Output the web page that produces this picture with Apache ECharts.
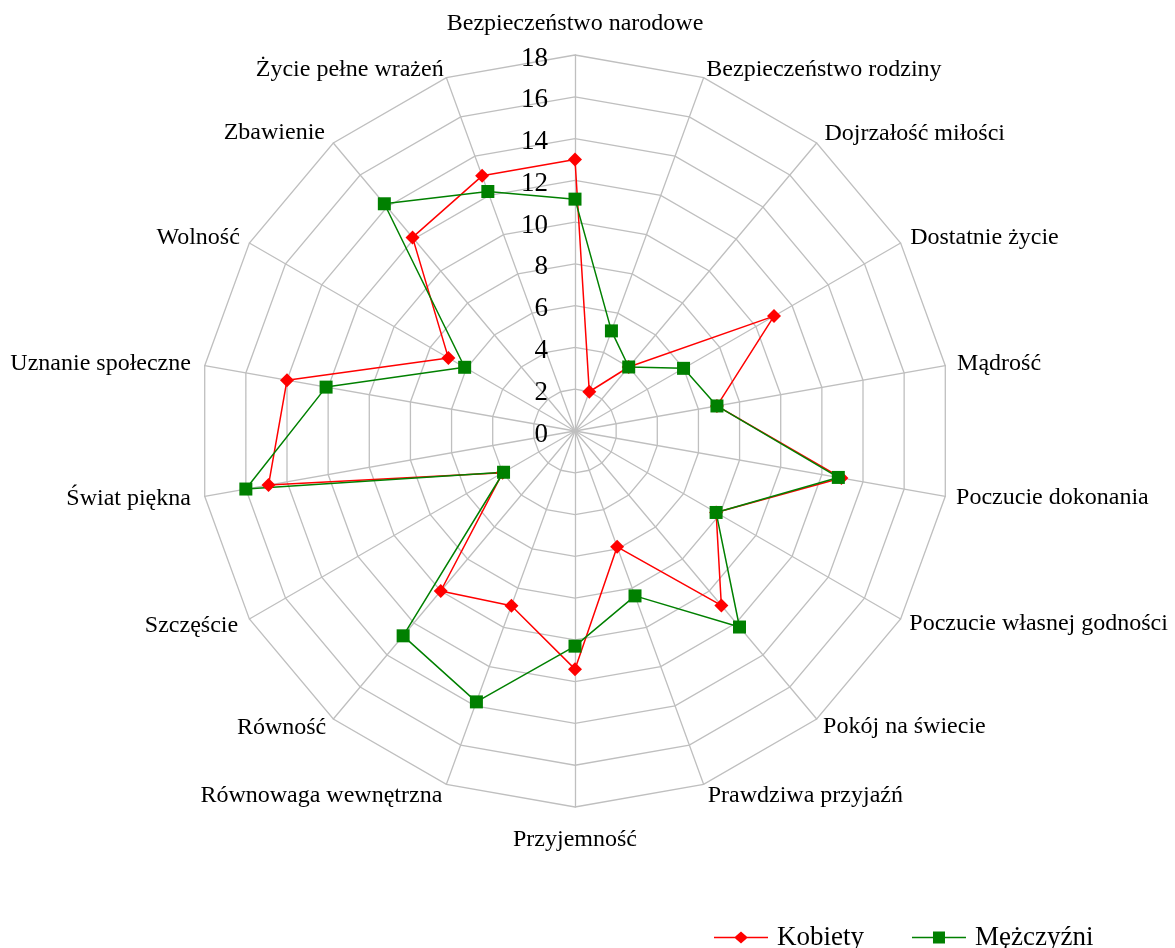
<!DOCTYPE html>
<html>
<head>
<meta charset="utf-8">
<script src="https://cdn.jsdelivr.net/npm/echarts@6/dist/echarts.min.js"></script>
<style>
  html, body { margin: 0; padding: 0; background: #fff; }
  #chart { width: 1175px; height: 948px; }
</style>
</head>
<body>
<div id="chart"></div>
<script>
// wartości (kolejność zgodnie z ruchem wskazówek zegara, od góry)
const indicatorNames = [
  'Bezpieczeństwo narodowe', 'Bezpieczeństwo rodziny', 'Dojrzałość miłości',
  'Dostatnie życie', 'Mądrość', 'Poczucie dokonania', 'Poczucie własnej godności',
  'Pokój na świecie', 'Prawdziwa przyjaźń', 'Przyjemność', 'Równowaga wewnętrzna',
  'Równość', 'Szczęście', 'Świat piękna', 'Uznanie społeczne', 'Wolność',
  'Zbawienie', 'Życie pełne wrażeń'
];
const kobiety = [13.0, 2.0, 4.0, 11.0, 6.9, 12.95, 7.8, 10.9, 5.9, 11.4, 8.9, 10.0, 4.0, 14.9, 14.0, 7.0, 12.1, 13.0];
const mezczyzni = [11.1, 5.1, 4.0, 6.0, 6.9, 12.8, 7.8, 12.25, 8.4, 10.3, 13.8, 12.8, 3.95, 16.0, 12.1, 6.1, 14.2, 12.2];
const axisMax = 18;
const seriesNames = ['Kobiety', 'Mężczyźni'];

// odstęp nazw od wierzchołka (styl, w tej samej kolejności co nazwy)
const nameGaps = [19, 8, 12, 11, 12, 11, 10, 10, 12, 21, 12, 11, 13, 14, 14, 11, 13, 8];

const FONT = "'Liberation Serif', 'Times New Roman', serif";

// echarts rysuje wskaźniki przeciwnie do ruchu wskazówek -> odwracamy kolejność
const n = indicatorNames.length;
const order = [0];
for (let i = n - 1; i >= 1; i--) order.push(i);
const reorder = arr => order.map(i => arr[i]);

const gapsOrdered = reorder(nameGaps);
const indicator = reorder(indicatorNames).map((name, i) => {
  const ind = { name: name, min: 0, max: axisMax, nameGap: gapsOrdered[i] };
  if (i === 0) ind.axisLabel = { show: true };  // etykiety tylko na osi pionowej
  return ind;
});

// ikony legendy: linia z markerem
const diamondIcon = 'path://M0,5.2H21L27,0L33,5.2H54V6.8H33L27,12L21,6.8H0Z';
const squareIcon = 'path://M0,5.2H21V0H33V5.2H54V6.8H33V12H21V6.8H0Z';

const option = {
  animation: false,
  textStyle: { fontFamily: FONT },
  legend: {
    left: 709,
    top: 919,
    itemWidth: 54,
    itemHeight: 12,
    itemGap: 48,
    textStyle: { fontFamily: FONT, fontSize: 27, color: '#000', padding: [0, 0, 0, 4] },
    data: [
      { name: seriesNames[0], icon: diamondIcon },
      { name: seriesNames[1], icon: squareIcon }
    ]
  },
  radar: {
    center: [575, 431],
    radius: 376,
    startAngle: 90,
    shape: 'polygon',
    splitNumber: 9,
    nameGap: 14,
    axisName: { color: '#000', fontFamily: FONT, fontSize: 24 },
    axisLine: { lineStyle: { color: '#bfbfbf', width: 1.3 } },
    splitLine: { lineStyle: { color: '#bfbfbf', width: 1.3 } },
    splitArea: { show: false },
    axisTick: { show: false },
    axisLabel: {
      show: false,
      margin: 27,
      formatter: '{v|{value}}',
      rich: { v: { color: '#000', fontFamily: FONT, fontSize: 27, padding: [7, 0, 0, 0] } }
    },
    indicator: indicator
  },
  series: [{
    type: 'radar',
    data: [
      {
        name: seriesNames[0],
        value: reorder(kobiety),
        symbol: 'diamond',
        symbolSize: 14,
        itemStyle: { color: '#ff0000' },
        lineStyle: { color: '#ff0000', width: 1.5 }
      },
      {
        name: seriesNames[1],
        value: reorder(mezczyzni),
        symbol: 'rect',
        symbolSize: 13,
        itemStyle: { color: '#008000' },
        lineStyle: { color: '#008000', width: 1.5 }
      }
    ]
  }]
};

const chart = echarts.init(document.getElementById('chart'));
chart.setOption(option);
</script>
</body>
</html>
